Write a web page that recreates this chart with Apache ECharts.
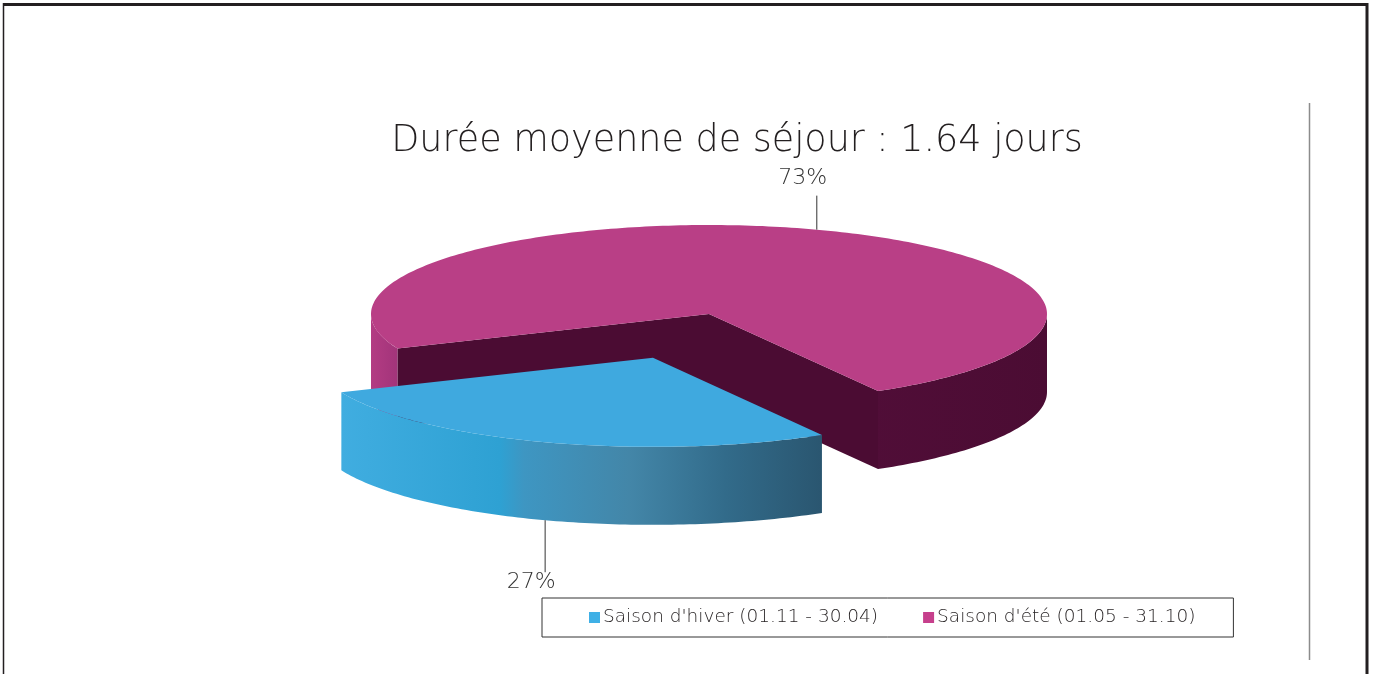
<!DOCTYPE html>
<html>
<head>
<meta charset="utf-8">
<script src="https://cdn.jsdelivr.net/npm/echarts@6/dist/echarts.min.js"></script>
<style>
  html, body { margin: 0; padding: 0; background: #fff; }
  #chart { width: 1374px; height: 674px; }
</style>
</head>
<body>
<div id="chart"></div>
<script>
// data
var categories = ["Saison d'hiver (01.11 - 30.04)", "Saison d'été (01.05 - 31.10)"];
var shares = [27, 73];
var shareLabels = ['27%', '73%'];
var titleText = 'Durée moyenne de séjour : 1.64 jours';

// look of the fake 3d pie
var legendColors = ['#3fb0e6', '#c63f8c'];
var topColors = ['#3fa9df', '#b93f86'];
var cutColors = ['#245a78', '#4b0c33'];
var sideStops = [
  [[0, '#40ade0'], [0.33, '#2ea1d3'], [0.38, '#3e96c2'], [0.6, '#4386a8'], [0.8, '#326b8a'], [1, '#2a5670']],
  [[0, '#b33c83'], [0.04, '#a2347a'], [0.25, '#5a1040'], [1, '#4b0c33']]
];
var explode = [0.52, 0];

var cx = 709, cy = 314, rx = 338, ry = 89, depth = 78, startDeg = 60;
var FONT = 'DejaVu Sans';

var total = shares.reduce(function (s, v) { return s + v; }, 0);

function pt(deg, ox, oy, dz) {
  var r = deg * Math.PI / 180;
  return [ox + rx * Math.cos(r), oy + ry * Math.sin(r) + dz];
}
function arc(a, b, ox, oy, dz) {
  var pts = [];
  var n = Math.max(2, Math.ceil(Math.abs(b - a)));
  for (var k = 0; k <= n; k++) pts.push(pt(a + (b - a) * k / n, ox, oy, dz));
  return pts;
}

function makeRender(i) {
  return function (params, api) {
    var val = api.value(0);
    var before = 0;
    for (var j = 0; j < i; j++) before += shares[j];
    var a = startDeg + before / total * 360;
    var b = a + val / total * 360;
    var m = (a + b) / 2;
    var mr = m * Math.PI / 180;
    var ox = cx + explode[i] * rx * Math.cos(mr);
    var oy = cy + explode[i] * ry * Math.sin(mr);
    var kids = [];

    // radial cut faces
    var cutFace = function (deg) {
      var p = pt(deg, ox, oy, 0);
      return {
        type: 'polygon',
        shape: { points: [[ox, oy], p, [p[0], p[1] + depth], [ox, oy + depth]] },
        style: { fill: cutColors[i] }
      };
    };
    if (Math.cos(a * Math.PI / 180) < 0) kids.push(cutFace(a));
    if (Math.cos(b * Math.PI / 180) > 0) kids.push(cutFace(b));

    // outer side, only front half
    for (var k = 0; k < 3; k++) {
      var lo = Math.max(a, k * 360), hi = Math.min(b, k * 360 + 180);
      if (hi <= lo) continue;
      var up = arc(lo, hi, ox, oy, 0);
      var down = arc(lo, hi, ox, oy, depth).reverse();
      var xs = up.map(function (p) { return p[0]; });
      var x0 = Math.min.apply(null, xs), x1 = Math.max.apply(null, xs);
      if (i === 1) { x0 = cx - rx; x1 = cx + rx; }
      kids.push({
        type: 'polygon',
        shape: { points: up.concat(down) },
        style: {
          fill: new echarts.graphic.LinearGradient(x0, 0, x1, 0,
            sideStops[i].map(function (s) { return { offset: s[0], color: s[1] }; }), true)
        }
      });
    }

    // top face
    kids.push({
      type: 'polygon',
      shape: { points: [[ox, oy]].concat(arc(a, b, ox, oy, 0)) },
      style: { fill: topColors[i] }
    });

    // label with leader line
    var lx, ly0, ly1, ty;
    if (Math.sin(mr) < 0) {
      var p = pt(m, ox, oy, 0);
      lx = p[0]; ly0 = p[1]; ly1 = p[1] - 34; ty = ly1 - 17;
    } else {
      var q = pt(m, ox, oy, depth);
      lx = q[0]; ly0 = q[1]; ly1 = q[1] + 52; ty = ly1 + 10;
    }
    kids.push({
      type: 'line',
      shape: { x1: lx, y1: ly0, x2: lx, y2: ly1 },
      style: { stroke: '#333', lineWidth: 1 }
    });
    kids.push({
      type: 'text',
      style: {
        text: shareLabels[i], x: lx - 14, y: ty,
        textAlign: 'center', textVerticalAlign: 'middle',
        fontFamily: FONT, fontWeight: 200, fontSize: 22, fill: '#333'
      }
    });

    return { type: 'group', children: kids };
  };
}

var chart = echarts.init(document.getElementById('chart'), null, { renderer: 'canvas' });

var option = {
  animation: false,
  backgroundColor: '#fff',
  title: {
    text: titleText,
    left: 737,
    top: 123,
    padding: 0,
    textAlign: 'center',
    textStyle: { fontFamily: FONT, fontWeight: 200, fontSize: 36.5, color: '#231f20' }
  },
  legend: {
    data: categories,
    left: 542,
    top: 598,
    orient: 'horizontal',
    icon: 'rect',
    itemWidth: 11,
    itemHeight: 11,
    itemGap: 45,
    padding: [10, 38, 10, 47],
    borderColor: '#333',
    borderWidth: 1,
    selectedMode: false,
    textStyle: { fontFamily: FONT, fontWeight: 200, fontSize: 18.5, color: '#231f20', padding: [0, 0, 0, -2] }
  },
  graphic: [
    { type: 'line', shape: { x1: 3, y1: 4.5, x2: 1368, y2: 4.5 }, style: { stroke: '#231f20', lineWidth: 3 } },
    { type: 'line', shape: { x1: 3.5, y1: 3, x2: 3.5, y2: 674 }, style: { stroke: '#231f20', lineWidth: 1.5 } },
    { type: 'line', shape: { x1: 1367, y1: 3, x2: 1367, y2: 674 }, style: { stroke: '#231f20', lineWidth: 3 } },
    { type: 'line', shape: { x1: 1309.5, y1: 103, x2: 1309.5, y2: 660 }, style: { stroke: '#8c8c8c', lineWidth: 1.5 } }
  ],
  series: categories.map(function (name, i) {
    return {
      type: 'custom',
      name: name,
      coordinateSystem: 'none',
      silent: true,
      z: i === 0 ? 3 : 2,
      itemStyle: { color: legendColors[i] },
      data: [shares[i]],
      renderItem: makeRender(i)
    };
  })
};

chart.setOption(option);
</script>
</body>
</html>
